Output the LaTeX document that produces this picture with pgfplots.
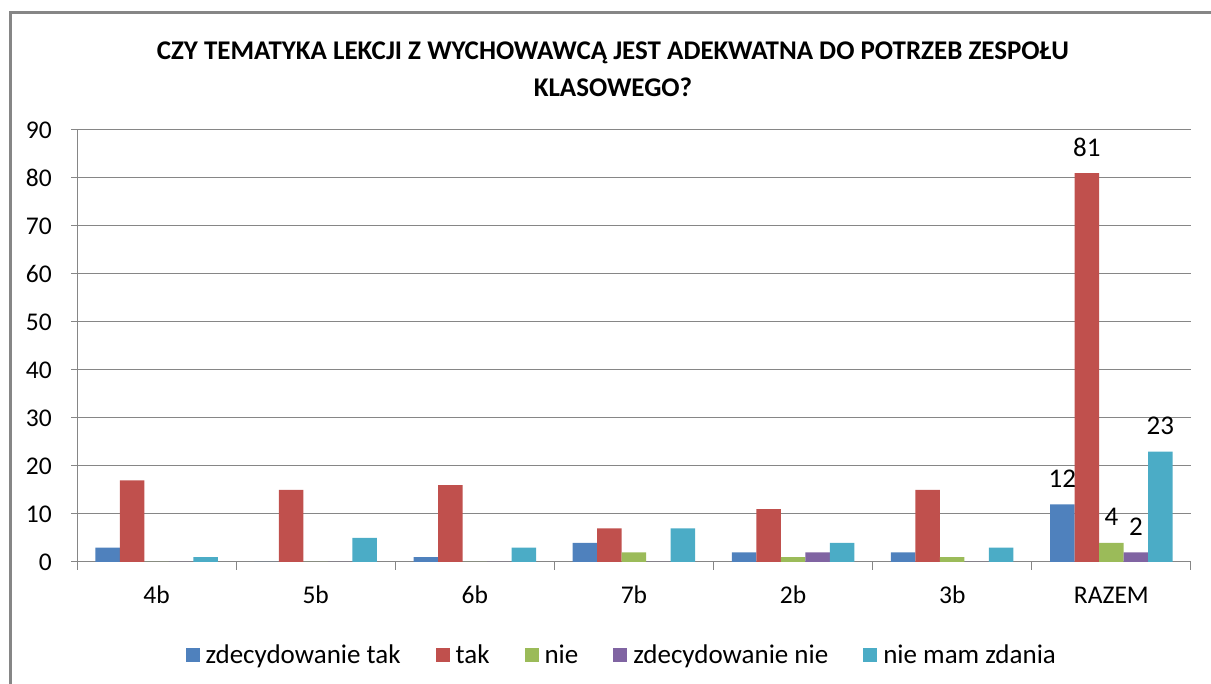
\documentclass[border=0pt]{standalone}
\usepackage{fontspec}
\setmainfont{Carlito}
\usepackage{pgfplots}
\pgfplotsset{compat=1.18}
\definecolor{c1}{HTML}{4F81BD}
\definecolor{c2}{HTML}{C0504D}
\definecolor{c3}{HTML}{9BBB59}
\definecolor{c4}{HTML}{8064A2}
\definecolor{c5}{HTML}{4BACC6}
\definecolor{gridc}{HTML}{868686}
\begin{document}
\begin{tikzpicture}[x=1pt,y=1pt]
\useasboundingbox (0,0) rectangle (1211,684);
\draw[gridc, line width=3pt] (10,-5) -- (10,671) -- (1211,671);
\node[font=\fontsize{27}{37}\selectfont\bfseries, align=center] at (613,615) {CZY TEMATYKA LEKCJI Z WYCHOWAWCĄ JEST ADEKWATNA DO POTRZEB ZESPOŁU\\KLASOWEGO?};
\begin{axis}[
  at={(77pt,122pt)}, anchor=south west,
  scale only axis, width=1114pt, height=432pt,
  /pgf/number format/assume math mode=true,
  ybar=0pt, bar width=24.5pt,
  ymin=0, ymax=90, ytick={0,10,...,90},
  xmin=-0.5, xmax=6.5,
  xtick={0,...,6}, xticklabels={4b,5b,6b,7b,2b,3b,RAZEM},
  minor xtick={-0.5,0.5,...,6.5},
  axis x line*=bottom, axis y line*=left,
  axis line style={gridc, line width=1pt},
  tick align=outside,
  major tick length=6pt, minor tick length=8pt,
  every tick/.style={gridc, line width=1pt},
  major x tick style={draw=none},
  ymajorgrids=true,
  major grid style={gridc, line width=1pt},
  ticklabel style={font=\fontsize{25.5}{28}\selectfont},
  xticklabel style={anchor=center, yshift=-27pt},
  yticklabel style={anchor=east, inner sep=0pt, xshift=-19pt},
  point meta=explicit,
  nodes near coords={\pgfmathfloatifflags{\pgfplotspointmeta}{0}{}{\pgfmathprintnumber{\pgfplotspointmeta}}},
  every node near coord/.append style={font=\fontsize{27}{30}\selectfont, anchor=center, yshift=26pt},
  legend style={at={(0.489,-0.215)}, anchor=center, draw=none, fill=none,
    font=\fontsize{27}{30}\selectfont, legend columns=5,
    /tikz/every odd column/.append style={column sep=4pt},
    /tikz/every even column/.append style={column sep=33pt}},
  legend image code/.code={\fill[#1] (0pt,-7pt) rectangle (14pt,7pt);},
]
\addplot[fill=c1, draw=none] coordinates {(0,3)[0] (1,0)[0] (2,1)[0] (3,4)[0] (4,2)[0] (5,2)[0] (6,12)[12]};
\addplot[fill=c2, draw=none] coordinates {(0,17)[0] (1,15)[0] (2,16)[0] (3,7)[0] (4,11)[0] (5,15)[0] (6,81)[81]};
\addplot[fill=c3, draw=none] coordinates {(0,0)[0] (1,0)[0] (2,0)[0] (3,2)[0] (4,1)[0] (5,1)[0] (6,4)[4]};
\addplot[fill=c4, draw=none] coordinates {(0,0)[0] (1,0)[0] (2,0)[0] (3,0)[0] (4,2)[0] (5,0)[0] (6,2)[2]};
\addplot[fill=c5, draw=none] coordinates {(0,1)[0] (1,5)[0] (2,3)[0] (3,7)[0] (4,4)[0] (5,3)[0] (6,23)[23]};
\legend{zdecydowanie tak, tak, nie, zdecydowanie nie, nie mam zdania}
\end{axis}
\end{tikzpicture}
\end{document}
